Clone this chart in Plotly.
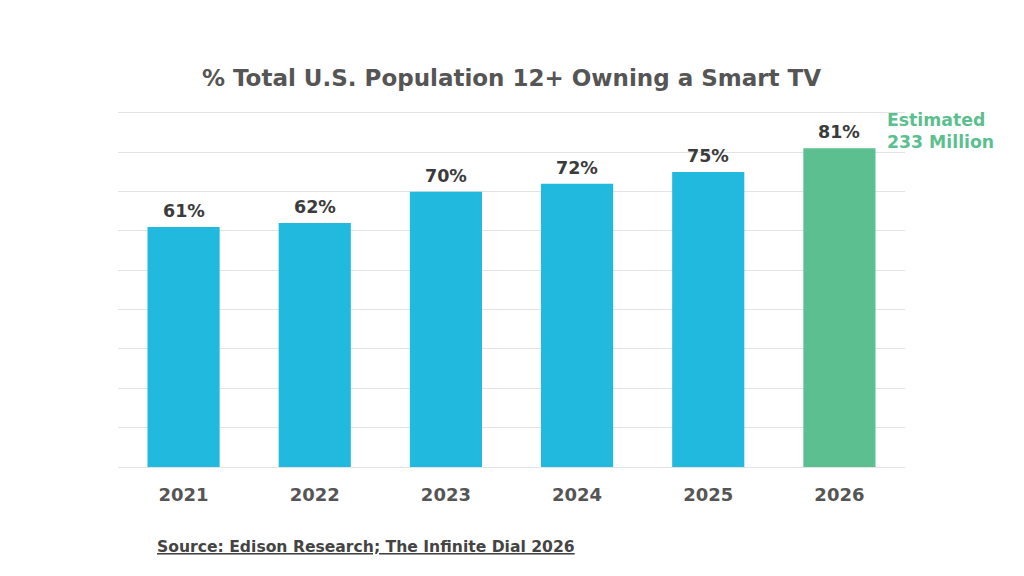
import plotly.graph_objects as go

years = ["2021", "2022", "2023", "2024", "2025", "2026"]
owning_pct = [61, 62, 70, 72, 75, 81]
bar_colors = ["#22B9DF"] * 5 + ["#5CBF8F"]

title_text = "% Total U.S. Population 12+ Owning a Smart TV"
estimate_note = "Estimated<br>233 Million"
source_text = "Source: Edison Research; The Infinite Dial 2026"

FONT = "DejaVu Sans"
# page body has an 8px margin, so margins are shifted to compensate
OFF = 8

fig = go.Figure()

fig.add_trace(go.Bar(
    x=years,
    y=owning_pct,
    marker=dict(color=bar_colors, line=dict(width=0)),
    hoverinfo="skip",
))

# value labels above each bar (category index as x position)
for i, val in enumerate(owning_pct):
    fig.add_annotation(
        x=i, y=val, text="<b>{}%</b>".format(val), showarrow=False,
        yanchor="bottom", yshift=4,
        font=dict(family=FONT, size=17.5, color="#3b3b3b"),
    )

fig.add_annotation(
    x=1.0, xref="paper", xanchor="left", xshift=-20,
    y=owning_pct[-1], yref="y", yanchor="bottom", yshift=-6,
    text="<b>" + estimate_note + "</b>", align="left", showarrow=False,
    font=dict(family=FONT, size=17.3, color="#5CBF8F"),
)

fig.add_annotation(
    x=0, xref="paper", xanchor="left", xshift=157 - 120,
    y=0, yref="paper", yanchor="middle", yshift=-(547 - 467),
    text="<b><u>" + source_text + "</u></b>", showarrow=False,
    font=dict(family=FONT, size=15.6, color="#444444"),
)

fig.update_layout(
    width=1024, height=576,
    margin=dict(l=118 - OFF, r=119 + OFF, t=111 - OFF, b=109 + OFF),
    paper_bgcolor="white", plot_bgcolor="white",
    title=dict(
        text="<b>" + title_text + "</b>",
        xref="paper", x=0.5, xanchor="center",
        y=1 - (78 - OFF) / 576, yanchor="middle",
        font=dict(family=FONT, size=23, color="#555555"),
    ),
    bargap=0.45,
    showlegend=False,
)

fig.update_xaxes(
    type="category", range=[-0.5, len(years) - 0.5],
    showgrid=False, showline=False, ticks="",
    tickprefix="<b>", ticksuffix="</b>",
    tickfont=dict(family=FONT, size=18, color="#555555"),
    ticklabelstandoff=15,
)
fig.update_yaxes(
    range=[0, 90.5], tick0=0, dtick=10, showticklabels=False,
    gridcolor="#e3e3e3", gridwidth=1,
    zeroline=True, zerolinecolor="#e3e3e3", zerolinewidth=1,
)

fig.write_html("out.html")
